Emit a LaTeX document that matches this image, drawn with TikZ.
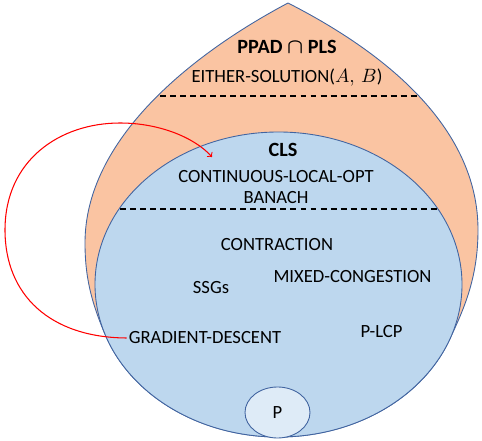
\documentclass[tikz,border=0pt]{standalone}
\usepackage{fontspec}
\setmainfont{Carlito}
\usetikzlibrary{calc,shapes.geometric,positioning}
\definecolor{mypeach}{RGB}{250,196,162}
\definecolor{myblue}{RGB}{189,215,238}
\definecolor{mylightblue}{RGB}{222,235,247}
\definecolor{myedge}{RGB}{65,100,160}
\tikzstyle{classname}=[font=\fontsize{11.5}{13}\selectfont\bfseries,inner sep=1pt]
\tikzstyle{problem}=[font=\fontsize{10.6}{12}\selectfont,inner sep=1pt]
\tikzstyle{sep}=[draw=black,semithick,dash pattern=on 3.4pt off 2.3pt]

\begin{document}
\begin{tikzpicture}[line width=0.5pt]
\useasboundingbox (0,0) rectangle (9.64,8.8);
\coordinate (c) at (5.57,3.11);
\coordinate (L) at ($(c)+(199.3:3.67 and 3.05)$);
\coordinate (R) at ($(c)+(-21.3:3.67 and 3.05)$);
% PPAD cap PLS
\path[draw=myedge,fill=mypeach,path picture={\draw[sep] (0,6.88) -- (9.64,6.88);}]
  (L) .. controls (1.81,2.79) and (1.70,3.3) .. (1.70,3.94)
  .. controls (1.70,6.0) and (3.8,7.7) .. (5.76,8.74)
  .. controls (7.8,7.7) and (9.56,6.2) .. (9.56,4.2)
  .. controls (9.56,3.2) and (9.25,2.57) .. (R)
  arc[start angle=-21.3,end angle=-160.7,x radius=3.67,y radius=3.05] -- cycle;
% CLS
\path[draw=myedge,fill=myblue,path picture={\draw[sep] (0,4.62) -- (9.64,4.62);}]
  (c) ellipse [x radius=3.67,y radius=3.05];
\draw (5.55,0.55) node [ellipse,draw=myedge,fill=mylightblue,minimum width=1.3cm,minimum height=1.02cm,problem] (p) {P};

\draw (5.74,7.86) node [classname] (ppad) {PPAD {\boldmath$\cap$} PLS};
\draw (5.74,7.24) node [problem] (either) {EITHER-SOLUTION($A,\,B$)};
\draw (5.66,5.80) node [classname] (cls) {CLS};
\draw (5.52,5.26) node [problem] (clo) {CONTINUOUS-LOCAL-OPT};
\draw (5.52,4.84) node [problem] (banach) {BANACH};
\draw (5.54,3.90) node [problem] (contr) {CONTRACTION};
\draw (7.05,3.26) node [problem] (mixed) {MIXED-CONGESTION};
\draw (4.22,3.04) node [problem] (ssg) {SSGs};
\draw (4.10,2.04) node [problem] (gd) {GRADIENT-DESCENT};
\draw (7.63,2.16) node [problem] (plcp) {P-LCP};

\coordinate (tip) at (4.24,5.66);
\draw[->,red,semithick] (gd.west) .. controls (1.0,2.05) and (0.1,2.9) .. (0.1,4.2)
  .. controls (0.1,5.6) and (1.2,6.34) .. (2.4,6.34)
  .. controls (3.2,6.34) and (3.9,6.04) .. (tip);
\end{tikzpicture}
\end{document}
